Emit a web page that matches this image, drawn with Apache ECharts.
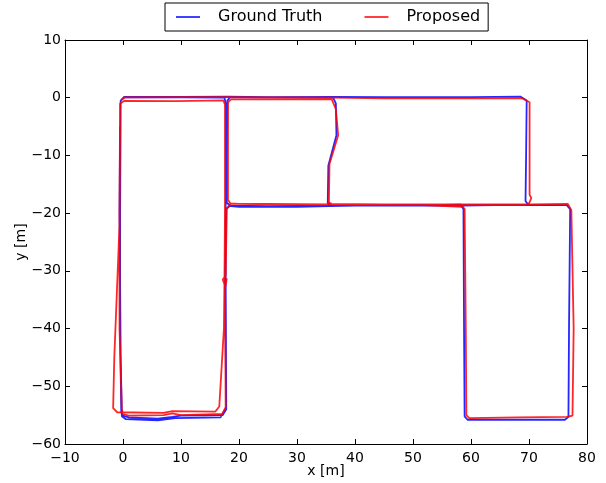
<!DOCTYPE html>
<html>
<head>
<meta charset="utf-8">
<script src="https://cdn.jsdelivr.net/npm/echarts@6/dist/echarts.min.js"></script>
<style>html,body{margin:0;padding:0;background:#fff}#c{width:606px;height:483px}</style>
</head>
<body>
<div id="c"></div>
<script>
var seriesNames = ['Ground Truth', 'Proposed'];
var xTicks = [-10, 0, 10, 20, 30, 40, 50, 60, 70, 80];
var yTicks = [-60, -50, -40, -30, -20, -10, 0, 10];

var groundTruth = [
  [-0.4,-0.5],[0.2,0.15],[10,0.15],[18,0.2],[25,0.1],[36.3,0.15],[45,0.1],[60,0.1],[68.5,0.2],[69.6,-0.5],
  [69.5,-10],[69.4,-17.9],[69.9,-18.6],[64,-18.6],[58.5,-18.7],[50,-18.6],[40,-18.7],[35.5,-18.8],[30,-18.9],
  [20,-18.9],[18.6,-18.8],[17.9,-18.2],[17.9,-10],[18,-0.5],[18.4,0.05],[30,0.05],[36.2,0.05],[36.7,-1],
  [36.8,-6.5],[35.4,-11.8],[35.3,-18.2],[35.8,-18.7],[45,-18.7],[58.3,-18.7],[58.7,-19.3],[58.8,-40],
  [58.9,-55.2],[59.4,-55.8],[68,-55.8],[76.2,-55.8],[76.8,-55.3],[76.9,-40],[77.1,-19.3],[76.5,-18.6],
  [70.5,-18.6],[64,-18.6],[58.5,-18.6],[50,-18.7],[36,-18.7],[25,-18.8],[18.5,-18.7],[17.8,-19.3],
  [17.6,-32],[17.8,-54],[17.2,-55],[10,-55.1],[8.5,-55.3],[6,-55.6],[1,-55.4],[0,-55.1],[-0.3,-54.5],
  [-0.5,-40],[-0.5,-20],[-0.4,-0.5],[0.2,0.1],[10,0.05],[17.5,0.0],[17.7,-1],[17.7,-18],[17.7,-32],
  [17.8,-53.8],[16.8,-55.4],[9,-55.5],[6,-55.9],[0.5,-55.7],[-0.2,-55.2],[-0.4,-45],[-0.6,-20],[-0.5,-5]
];

var proposed = [
  [-0.3,-0.4],[0.3,0.05],[10,0.1],[18,0.1],[25,0.05],[36.3,0.0],[45,-0.1],[60,-0.1],[68.8,-0.1],[70.1,-0.8],
  [70.1,-10],[70.1,-16.8],[70.4,-17.4],[70,-18.3],[69.3,-18.6],[64,-18.6],[58.8,-18.6],[58.4,-18.9],[58.1,-18.6],
  [50,-18.5],[40,-18.6],[36,-18.4],[35.5,-18.3],[34.8,-18.6],[30,-18.5],[20,-18.4],[18.5,-18.3],[18.1,-17.7],
  [18.1,-10],[18.1,-0.8],[18.6,-0.3],[30,-0.3],[36,-0.3],[36.7,-2],[37.1,-6.5],[35.6,-11.5],[35.5,-18.1],
  [36,-18.4],[45,-18.5],[58.3,-18.5],[58.9,-19.3],[59.1,-40],[59.2,-55],[59.7,-55.5],[68,-55.4],[76.5,-55.3],
  [77.5,-55.1],[77.7,-40],[77.3,-19.5],[76.7,-18.4],[70.5,-18.5],[64,-18.5],[58.5,-18.5],[50,-18.6],
  [36,-18.5],[25,-18.4],[18.5,-18.4],[17.9,-19.2],[17.7,-30.8],[17.2,-31.5],[17.5,-32.4],[17.9,-31.3],
  [17.6,-33],[17.7,-53.6],[17.1,-54.8],[10,-55],[8.5,-54.7],[7,-55],[1,-55.1],[0,-54.8],[-0.2,-54],
  [-0.6,-40],[-0.6,-20],[-0.5,-1],[0.2,-0.55],[9,-0.6],[17.3,-0.45],[17.6,-1.2],[17.6,-18],[17.5,-31],
  [17.4,-40],[16.6,-53.5],[15.9,-54.4],[8.5,-54.3],[7,-54.6],[-1,-54.5],[-1.7,-53.8],[-1.5,-45],[-0.6,-22],
  [-0.5,-5]
];

function fmt(v) { return String(v).replace('-', '\u2212'); }

var chart = echarts.init(document.getElementById('c'), null, {renderer: 'canvas'});
var font = 'DejaVu Sans';
var axisCommon = {
  type: 'value',
  interval: 10,
  axisLine: {show: true, onZero: false, lineStyle: {color: '#000', width: 1}},
  axisTick: {show: true, inside: true, length: 5, lineStyle: {color: '#000'}},
  splitLine: {show: false}
};
chart.setOption({
  animation: false,
  backgroundColor: '#fff',
  textStyle: {fontFamily: font},
  legend: {
    data: seriesNames,
    left: 165, top: 3,
    borderColor: '#000', borderWidth: 1,
    padding: [6, 8, 6, 11],
    itemGap: 42,
    itemWidth: 24, itemHeight: 1.5,
    icon: 'rect',
    textStyle: {fontSize: 16, color: '#000', fontFamily: font, padding: [0, 0, 0, 13]}
  },
  grid: {left: 65, right: 19, top: 40, bottom: 39, outerBoundsMode: 'none', containLabel: false},
  xAxis: [
    Object.assign({}, axisCommon, {
      position: 'bottom', min: -10, max: 80,
      name: 'x [m]', nameLocation: 'middle', nameGap: 20, nameMoveOverlap: false,
      nameTextStyle: {fontSize: 14, color: '#000', fontFamily: font, verticalAlign: 'top'},
      axisLabel: {show: true, fontSize: 14, color: '#000', margin: 7, fontFamily: font, formatter: fmt}
    }),
    Object.assign({}, axisCommon, {
      position: 'top', min: -10, max: 80, axisLabel: {show: false}
    })
  ],
  yAxis: [
    Object.assign({}, axisCommon, {
      position: 'left', min: -60, max: 10,
      name: 'y [m]', nameLocation: 'middle', nameGap: 37, nameMoveOverlap: false,
      nameTextStyle: {fontSize: 14, color: '#000', fontFamily: font},
      axisLabel: {show: true, fontSize: 14, color: '#000', margin: 4, fontFamily: font, formatter: fmt}
    }),
    Object.assign({}, axisCommon, {
      position: 'right', min: -60, max: 10, axisLabel: {show: false}
    })
  ],
  series: [
    {
      name: seriesNames[0], type: 'line', data: groundTruth, showSymbol: false, symbol: 'none',
      xAxisIndex: 0, yAxisIndex: 0,
      itemStyle: {color: '#0000ff'},
      lineStyle: {color: '#0000ff', width: 1.8, opacity: 0.85}
    },
    {
      name: seriesNames[1], type: 'line', data: proposed, showSymbol: false, symbol: 'none',
      xAxisIndex: 0, yAxisIndex: 0,
      itemStyle: {color: '#ff0000'},
      lineStyle: {color: '#ff0000', width: 1.8, opacity: 0.85}
    }
  ]
});
</script>
</body>
</html>
